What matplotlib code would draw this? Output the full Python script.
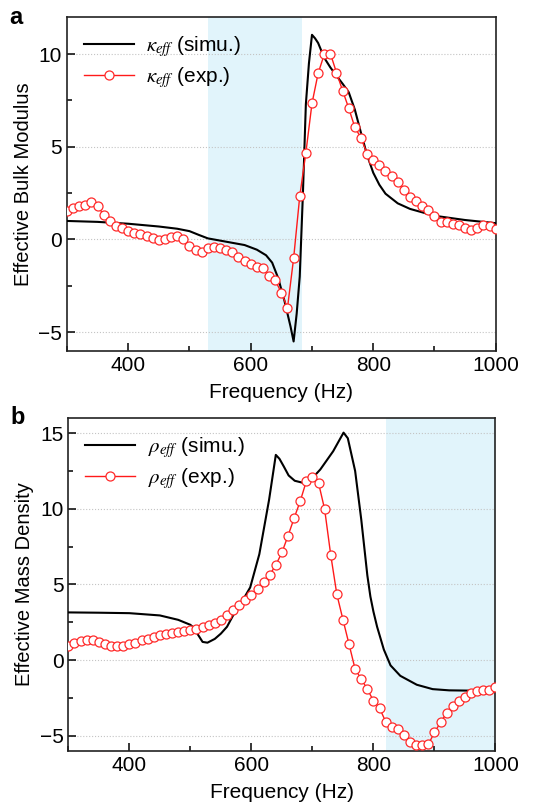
"""Effective bulk modulus and mass density vs frequency (simulation vs experiment)."""

import numpy as np
import matplotlib
matplotlib.use('Agg')
from matplotlib import pyplot as plt
from matplotlib.ticker import MultipleLocator

##############
### inputs ###
##############

# experimental points, every 10 Hz from 300 to 1000 Hz
freq_exp = np.arange(300, 1001, 10)

kappa_exp = [1.52, 1.72, 1.81, 1.88, 2.00, 1.79, 1.34, 0.98, 0.75, 0.61,
             0.46, 0.36, 0.27, 0.18, 0.07, -0.04, 0.02, 0.16, 0.21, 0.05,
             -0.36, -0.56, -0.68, -0.47, -0.41, -0.48, -0.59, -0.70, -0.93, -1.15,
             -1.33, -1.51, -1.53, -1.96, -2.21, -2.87, -3.69, -1.02, 2.33, 4.68,
             7.34, 8.96, 9.98, 10.03, 9.00, 8.03, 7.08, 6.05, 5.48, 4.62,
             4.31, 4.03, 3.69, 3.40, 3.10, 2.65, 2.31, 2.06, 1.83, 1.58,
             1.26, 0.94, 0.93, 0.86, 0.76, 0.60, 0.52, 0.61, 0.79, 0.72,
             0.54]

rho_exp = [0.96, 1.12, 1.25, 1.30, 1.30, 1.21, 1.05, 0.95, 0.90, 0.94,
           1.06, 1.16, 1.30, 1.39, 1.52, 1.65, 1.74, 1.82, 1.87, 1.92,
           1.98, 2.07, 2.16, 2.30, 2.45, 2.68, 2.95, 3.30, 3.65, 4.00,
           4.30, 4.73, 5.16, 5.63, 6.28, 7.11, 8.21, 9.38, 10.50, 11.82,
           12.13, 11.71, 9.97, 6.95, 4.35, 2.68, 1.05, -0.60, -1.25, -1.92,
           -2.69, -3.17, -4.07, -4.43, -4.58, -4.93, -5.44, -5.62, -5.62, -5.57,
           -4.78, -4.12, -3.50, -3.06, -2.73, -2.42, -2.18, -2.07, -2.00, -1.96,
           -1.80]

# simulated curves
freq_kappa_sim = [300, 350, 400, 450, 480, 500, 515, 530, 560, 590, 610, 625,
                  635, 645, 655, 665, 670, 675, 680, 685, 690, 695, 700, 705,
                  710, 720, 730, 740, 750, 760, 770, 780, 790, 800, 810, 820,
                  840, 860, 900, 950, 1000]
kappa_sim = [1.00, 0.95, 0.85, 0.70, 0.58, 0.45, 0.25, 0.06, -0.12, -0.30, -0.55, -0.85,
             -1.25, -2.10, -3.30, -4.70, -5.50, -4.00, -2.00, 2.30, 7.30, 9.50, 11.04, 10.85,
             10.60, 9.80, 9.28, 8.83, 8.40, 7.94, 7.00, 5.75, 4.55, 3.60, 2.95, 2.47,
             1.95, 1.65, 1.28, 1.05, 0.88]

freq_rho_sim = [300, 350, 400, 450, 480, 500, 505, 520, 528, 540, 550, 560,
                572, 585, 598, 613, 629, 640, 646, 653, 661, 671, 684, 697,
                713, 734, 751, 758, 770, 780, 790, 795, 800, 806, 817, 828,
                844, 871, 897, 924, 960, 1000]
rho_sim = [3.15, 3.13, 3.10, 2.95, 2.66, 2.33, 2.15, 1.20, 1.15, 1.40, 1.75, 2.20,
           3.10, 3.90, 4.80, 7.00, 10.60, 13.56, 13.30, 12.80, 12.20, 11.85, 11.72, 11.90,
           12.60, 13.80, 15.03, 14.66, 12.50, 9.30, 5.60, 4.20, 3.20, 2.20, 0.70, -0.35,
           -1.04, -1.63, -1.92, -2.00, -2.02, -2.03]

band_a = (530, 684)
band_b = (820, 1000)

############
### MAIN ###
############

plt.rcParams['font.family'] = ['Liberation Sans', 'DejaVu Sans']
plt.rcParams['mathtext.fontset'] = 'stix'

fig = plt.figure(figsize=(5.49, 8.10), dpi=100)
ax_a = fig.add_axes([0.122, 0.567, 0.781, 0.412])
ax_b = fig.add_axes([0.1245, 0.073, 0.778, 0.411])

panels = [
    (ax_a, freq_kappa_sim, kappa_sim, kappa_exp, band_a, (-6, 12),
     'Effective Bulk Modulus', r'$\kappa_{eff}$', 'a'),
    (ax_b, freq_rho_sim, rho_sim, rho_exp, band_b, (-6, 16),
     'Effective Mass Density', r'$\rho_{eff}$', 'b'),
]

for ax, fs, ys, ye, band, ylim, ylab, sym, tag in panels:
    ax.axvspan(band[0], band[1], color='#e1f4fb', lw=0, zorder=0)
    ax.plot(fs, ys, color='black', lw=1.5, zorder=3,
            label=sym + ' (simu.)')
    ax.plot(freq_exp, ye, color='#ff1a1a', lw=1.0, marker='o', ms=6.5,
            mfc='white', mec='#ff2a2a', mew=0.9, zorder=4,
            label=sym + ' (exp.)')
    ax.set_xlim(300, 1000)
    ax.set_ylim(*ylim)
    ax.set_axisbelow(True)
    ax.yaxis.grid(True, linestyle=':', color='#c4c4c4', lw=0.8)
    ax.xaxis.set_major_locator(MultipleLocator(200))
    ax.xaxis.set_minor_locator(MultipleLocator(100))
    ax.yaxis.set_major_locator(MultipleLocator(5))
    ax.yaxis.set_minor_locator(MultipleLocator(2.5))
    ax.tick_params(which='both', direction='in', labelsize=15,
                   top=False, right=False)
    ax.tick_params(which='major', length=6, width=1.1)
    ax.tick_params(which='minor', length=3.5, width=1.1)
    for sp in ax.spines.values():
        sp.set_linewidth(1.2)
        sp.set_color('#222222')
    ax.set_xlabel('Frequency (Hz)', fontsize=15, labelpad=6)
    ax.set_ylabel(ylab, fontsize=14.5, labelpad=4)
    ax.legend(loc='upper left', frameon=False, fontsize=15,
              handlelength=2.4, handletextpad=0.6, labelspacing=0.3,
              borderaxespad=0.4)
    ax.text(-0.135, 1.0, tag, transform=ax.transAxes, fontsize=17,
            fontweight='bold', va='center', ha='left')

fig.savefig('out.png', dpi=100)
